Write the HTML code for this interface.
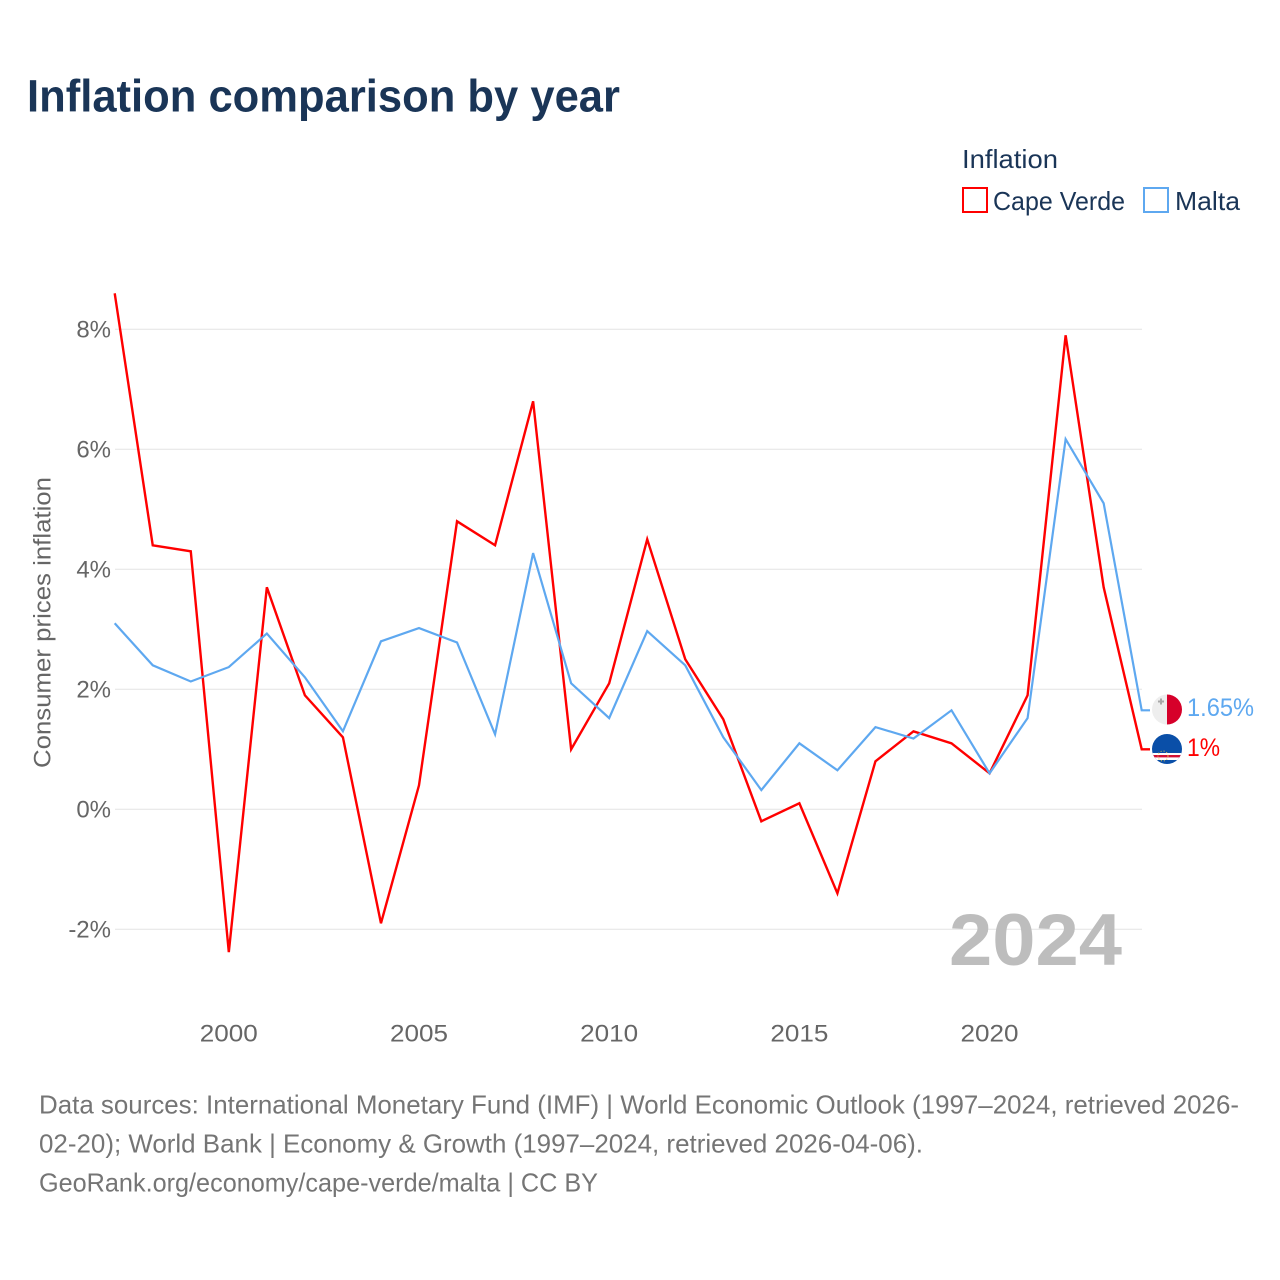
<!DOCTYPE html>
<html lang="en">
<head>
<meta charset="utf-8">
<title>Inflation comparison by year</title>
<style>
html,body{margin:0;padding:0;background:#fff;width:1280px;height:1280px;overflow:hidden}
svg{display:block}
text{font-family:"Liberation Sans",Arial,sans-serif}
</style>
</head>
<body>
<svg id="chart" width="1280" height="1280" viewBox="0 0 1280 1280" xmlns="http://www.w3.org/2000/svg">
  <text x="27" y="111.5" font-size="45" font-weight="700" fill="#1a3557" textLength="593" lengthAdjust="spacingAndGlyphs">Inflation comparison by year</text>
  <text x="962" y="168" font-size="26" fill="#1a3557" textLength="96" lengthAdjust="spacingAndGlyphs">Inflation</text>
  <rect x="963" y="188" width="24" height="24" fill="#fff" stroke="#ff0000" stroke-width="2"/>
  <text x="993" y="210" font-size="26" fill="#1a3557" textLength="132" lengthAdjust="spacingAndGlyphs">Cape Verde</text>
  <rect x="1144" y="188" width="24" height="24" fill="#fff" stroke="#5ea8f0" stroke-width="2"/>
  <text x="1175" y="210" font-size="26" fill="#1a3557" textLength="65" lengthAdjust="spacingAndGlyphs">Malta</text>
  <g id="grid"></g>
  <g id="yticks"></g>
  <g id="xticks"></g>
  <text transform="translate(50.5 768) rotate(-90)" font-size="24.5" fill="#666666" textLength="291" lengthAdjust="spacingAndGlyphs">Consumer prices inflation</text>
  <text x="949" y="965" font-size="73" font-weight="700" fill="#bdbdbd" textLength="173" lengthAdjust="spacingAndGlyphs">2024</text>
  <g id="series"></g>
  <defs>
    <clipPath id="flag-clip-mt"><circle cx="1167" cy="709.5" r="15"/></clipPath>
    <clipPath id="flag-clip-cv"><circle cx="1167" cy="749" r="15"/></clipPath>
  </defs>
  <g clip-path="url(#flag-clip-mt)">
    <rect x="1152" y="694" width="15" height="31" fill="#eeeeee"/>
    <rect x="1167" y="694" width="15" height="31" fill="#d6002a"/>
    <path d="M1161 698.5v6M1158 701.5h6" stroke="#a8a8a8" stroke-width="2"/>
  </g>
  <g clip-path="url(#flag-clip-cv)">
    <rect x="1152" y="734" width="30" height="30" fill="#0a4fa8"/>
    <rect x="1152" y="753" width="30" height="7" fill="#ffffff"/>
    <rect x="1152" y="755" width="30" height="2.4" fill="#d21034"/>
    <circle cx="1163" cy="756" r="5" fill="none" stroke="#e8c94a" stroke-width="1" stroke-dasharray="1 2"/>
  </g>
  <text id="label-mt" x="1187" y="716" font-size="25" fill="#5ea8f0" textLength="67" lengthAdjust="spacingAndGlyphs">1.65%</text>
  <text id="label-cv" x="1187" y="756" font-size="25" fill="#ff0000" textLength="33" lengthAdjust="spacingAndGlyphs">1%</text>
  <g font-size="26" fill="#757575">
    <text x="39" y="1113.5" textLength="1200" lengthAdjust="spacingAndGlyphs">Data sources: International Monetary Fund (IMF) | World Economic Outlook (1997–2024, retrieved 2026-</text>
    <text x="39" y="1152.5" textLength="884" lengthAdjust="spacingAndGlyphs">02-20); World Bank | Economy &amp; Growth (1997–2024, retrieved 2026-04-06).</text>
    <text x="39" y="1191.5" textLength="559" lengthAdjust="spacingAndGlyphs">GeoRank.org/economy/cape-verde/malta | CC BY</text>
  </g>
</svg>
<script>
var years = [1997,1998,1999,2000,2001,2002,2003,2004,2005,2006,2007,2008,2009,2010,2011,2012,2013,2014,2015,2016,2017,2018,2019,2020,2021,2022,2023,2024];
var capeVerde = [8.6,4.4,4.3,-2.38,3.7,1.9,1.2,-1.9,0.4,4.8,4.4,6.8,1.0,2.1,4.5,2.5,1.5,-0.2,0.1,-1.4,0.8,1.3,1.1,0.6,1.9,7.9,3.7,1.0];
var malta = [3.1,2.4,2.13,2.37,2.93,2.2,1.3,2.8,3.02,2.78,1.25,4.27,2.1,1.52,2.97,2.4,1.2,0.32,1.1,0.65,1.37,1.18,1.65,0.6,1.52,6.17,5.1,1.65];
var yTickValues = [-2,0,2,4,6,8];
var yTickLabels = ['-2%','0%','2%','4%','6%','8%'];
var xTickValues = [2000,2005,2010,2015,2020];
var xTickLabels = ['2000','2005','2010','2015','2020'];

var NS = 'http://www.w3.org/2000/svg';
function xScale(year){ return 114.7 + (year - 1997) * (1142 - 115) / 27; }
function yScale(value){ return 809.3 - value * 60; }

var grid = document.getElementById('grid');
var yticks = document.getElementById('yticks');
var xticks = document.getElementById('xticks');
var seriesGroup = document.getElementById('series');

yTickValues.forEach(function(v, i){
  var line = document.createElementNS(NS, 'line');
  
  
  line.setAttribute('x1', 115);
  line.setAttribute('x2', 1142);
  line.setAttribute('y1', yScale(v));
  line.setAttribute('y2', yScale(v));
  line.setAttribute('stroke', '#e4e4e4');
  line.setAttribute('stroke-width', '1');
  grid.appendChild(line);

  var t = document.createElementNS(NS, 'text');
  
  
  t.setAttribute('x', 111);
  t.setAttribute('y', yScale(v) + 8.2);
  t.setAttribute('text-anchor', 'end');
  t.setAttribute('font-size', '24');
  t.setAttribute('fill', '#666666');
  t.textContent = yTickLabels[i];
  yticks.appendChild(t);
});

xTickValues.forEach(function(v, i){
  var t = document.createElementNS(NS, 'text');
  
  
  t.setAttribute('x', xScale(v) - 29);
  t.setAttribute('y', 1041.5);
  t.setAttribute('font-size', '24');
  t.setAttribute('fill', '#666666');
  t.setAttribute('textLength', '58');
  t.setAttribute('lengthAdjust', 'spacingAndGlyphs');
  t.textContent = xTickLabels[i];
  xticks.appendChild(t);
});

function drawSeries(values, color, width, name){
  var pts = values.map(function(v, i){ return xScale(years[i]).toFixed(2) + ',' + yScale(v).toFixed(2); });
  var last = values[values.length - 1];
  pts.push('1150,' + yScale(last).toFixed(2));
  var line = document.createElementNS(NS, 'polyline');
  
  
  line.setAttribute('points', pts.join(' '));
  line.setAttribute('fill', 'none');
  line.setAttribute('stroke', color);
  line.setAttribute('stroke-width', width);
  line.setAttribute('stroke-linejoin', 'miter');
  seriesGroup.appendChild(line);
}
drawSeries(capeVerde, '#ff0000', '2.4', 'cape-verde-line');
drawSeries(malta, '#5ea8f0', '2.2', 'malta-line');
</script>
</body>
</html>
